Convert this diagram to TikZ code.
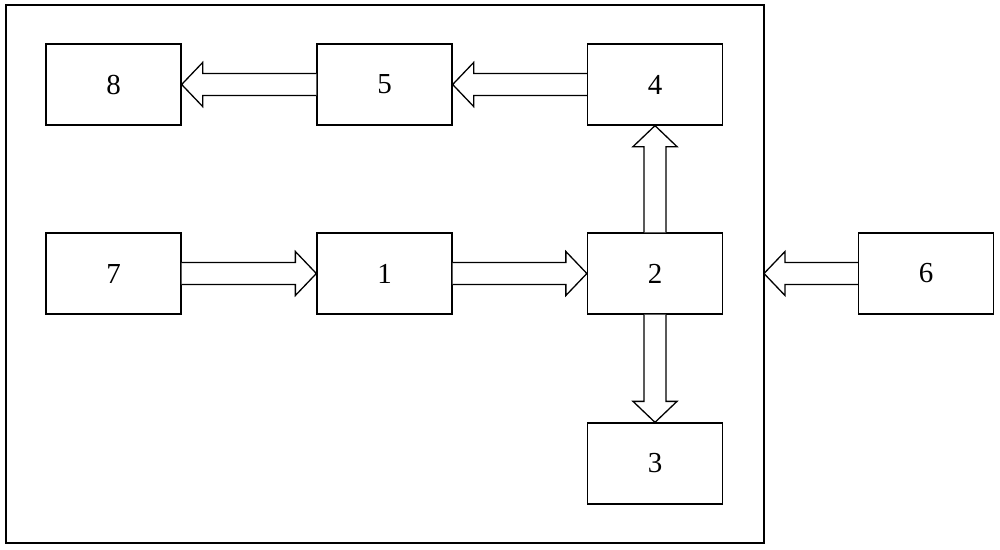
\documentclass[tikz,border=0pt]{standalone}
\usepackage{fontspec}
\setmainfont{Liberation Serif}
\usetikzlibrary{calc}
\tikzset{
  box/.style={draw, line width=1.3pt, minimum width=135pt, minimum height=81pt, inner sep=0pt, font=\fontsize{29}{31}\selectfont},
  blk/.style={draw, line width=1.3pt, line join=miter, fill=white},
}
\newcommand\blockarrow[2]{%
  \path ($(#2)!21pt!(#1)$) coordinate (bh);
  \draw[blk] ($(#1)!11pt!90:(#2)$) -- ($(bh)!11pt!-90:(#1)$) -- ($(bh)!22pt!-90:(#1)$) -- (#2) -- ($(bh)!22pt!90:(#1)$) -- ($(bh)!11pt!90:(#1)$) -- ($(#1)!11pt!-90:(#2)$);
}
\begin{document}
\begin{tikzpicture}[x=1pt,y=-1pt]
\useasboundingbox (0,0) rectangle (1000,549);
\draw[line width=1.3pt] (6,5) rectangle (764,543);
\node[box] (n8) at (113.5,84.5) {8};
\node[box] (n5) at (384.5,84.5) {5};
\node[box] (n4) at (655,84.5) {4};
\node[box] (n7) at (113.5,273.5) {7};
\node[box] (n1) at (384.5,273.5) {1};
\node[box] (n2) at (655,273.5) {2};
\node[box] (n3) at (655,463.5) {3};
\node[box] (n6) at (926,273.5) {6};
\coordinate (edge) at (764,273.5);
\blockarrow{n5.west}{n8.east}
\blockarrow{n4.west}{n5.east}
\blockarrow{n7.east}{n1.west}
\blockarrow{n1.east}{n2.west}
\blockarrow{n2.north}{n4.south}
\blockarrow{n2.south}{n3.north}
\blockarrow{n6.west}{edge}
\end{tikzpicture}
\end{document}
